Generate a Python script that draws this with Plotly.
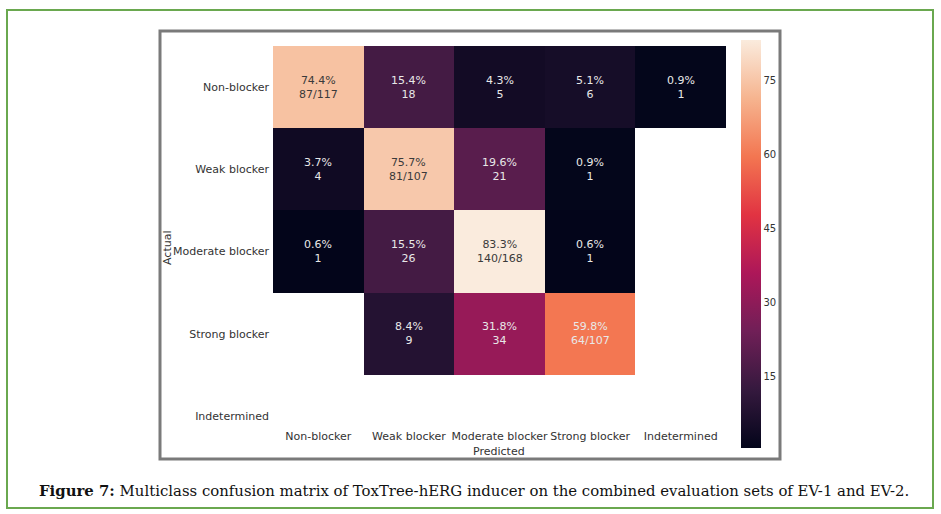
import plotly.graph_objects as go

W, H = 941, 514

classes = ["Non-blocker", "Weak blocker", "Moderate blocker", "Strong blocker", "Indetermined"]

# percentages per actual row (None = no prediction in that cell)
pct = [
    [74.4, 15.4, 4.3, 5.1, 0.9],
    [3.7, 75.7, 19.6, 0.9, None],
    [0.6, 15.5, 83.3, 0.6, None],
    [None, 8.4, 31.8, 59.8, None],
    [None, None, None, None, None],
]
counts = [
    ["87/117", "18", "5", "6", "1"],
    ["4", "81/107", "21", "1", None],
    ["1", "26", "140/168", "1", None],
    [None, "9", "34", "64/107", None],
    [None, None, None, None, None],
]

# seaborn "rocket"
ROCKET = [
    [0.0, "#03051A"], [0.143, "#35193E"], [0.286, "#701F57"], [0.429, "#AD1759"],
    [0.571, "#E13342"], [0.714, "#F37651"], [0.857, "#F6B48F"], [1.0, "#FAEBDD"],
]

vals = [v for row in pct for v in row if v is not None]
zmin, zmax = min(vals), max(vals)


def px_x(x):
    return x / W


def px_y(y):
    return 1 - y / H


fig = go.Figure(go.Heatmap(
    z=pct,
    x=classes,
    y=classes,
    colorscale=ROCKET,
    zmin=zmin,
    zmax=zmax,
    hoverongaps=False,
    colorbar=dict(
        x=px_x(741), xanchor="left", xpad=0,
        y=px_y(244), yanchor="middle", ypad=0,
        lenmode="pixels", len=408,
        thickness=20, outlinewidth=0,
        tickvals=[15, 30, 45, 60, 75], ticks="",
        tickfont=dict(family="DejaVu Sans", size=10, color="#333333"),
    ),
))

# cell annotations
for i, row in enumerate(pct):
    for j, v in enumerate(row):
        if v is None:
            continue
        norm = (v - zmin) / (zmax - zmin)
        fig.add_annotation(
            x=classes[j], y=classes[i], xref="x", yref="y",
            text=f"{v:.1f}%<br>{counts[i][j]}", showarrow=False,
            font=dict(family="DejaVu Sans", size=11,
                      color="#3a3a3a" if norm > 0.8 else "#e8e8e8"),
        )

label_font = dict(family="DejaVu Sans", size=11, color="#333333")

fig.add_annotation(x=px_x(499), y=px_y(451), xref="paper", yref="paper",
                   xanchor="center", yanchor="middle",
                   text="Predicted", showarrow=False, font=label_font)
fig.add_annotation(x=px_x(167), y=px_y(248), xref="paper", yref="paper",
                   xanchor="center", yanchor="middle",
                   text="Actual", textangle=-90, showarrow=False, font=label_font)

# caption
fig.add_annotation(
    x=px_x(474), y=px_y(491), xref="paper", yref="paper",
    xanchor="center", yanchor="middle",
    text="<b>Figure 7:</b> Multiclass confusion matrix of ToxTree-hERG inducer on the combined evaluation sets of EV-1 and EV-2.",
    showarrow=False, font=dict(family="DejaVu Serif", size=14.9, color="#111111"),
)

# figure frame and page border
fig.add_shape(type="rect", xref="paper", yref="paper",
              x0=px_x(160), x1=px_x(780), y0=px_y(459), y1=px_y(31),
              line=dict(color="#7a7a7a", width=3))
fig.add_shape(type="rect", xref="paper", yref="paper",
              x0=px_x(7), x1=px_x(933), y0=px_y(508), y1=px_y(10),
              line=dict(color="#6aa84f", width=2))

row_h = (457 - 46) / 5
y_bottom = 428
fig.update_layout(
    width=W, height=H,
    margin=dict(l=0, r=0, t=0, b=0),
    paper_bgcolor="white", plot_bgcolor="white",
    xaxis=dict(domain=[px_x(273), px_x(726)], showgrid=False, zeroline=False,
               ticks="", tickfont=label_font, fixedrange=True),
    yaxis=dict(domain=[px_y(y_bottom), px_y(46)], showgrid=False, zeroline=False,
               range=[(y_bottom - 46) / row_h - 0.5, -0.5], ticklabelstandoff=3,
               ticks="", tickfont=label_font, fixedrange=True),
    showlegend=False,
)

fig.write_html("out.html", config={"displayModeBar": False},
               post_script="document.body.style.margin='0';")
